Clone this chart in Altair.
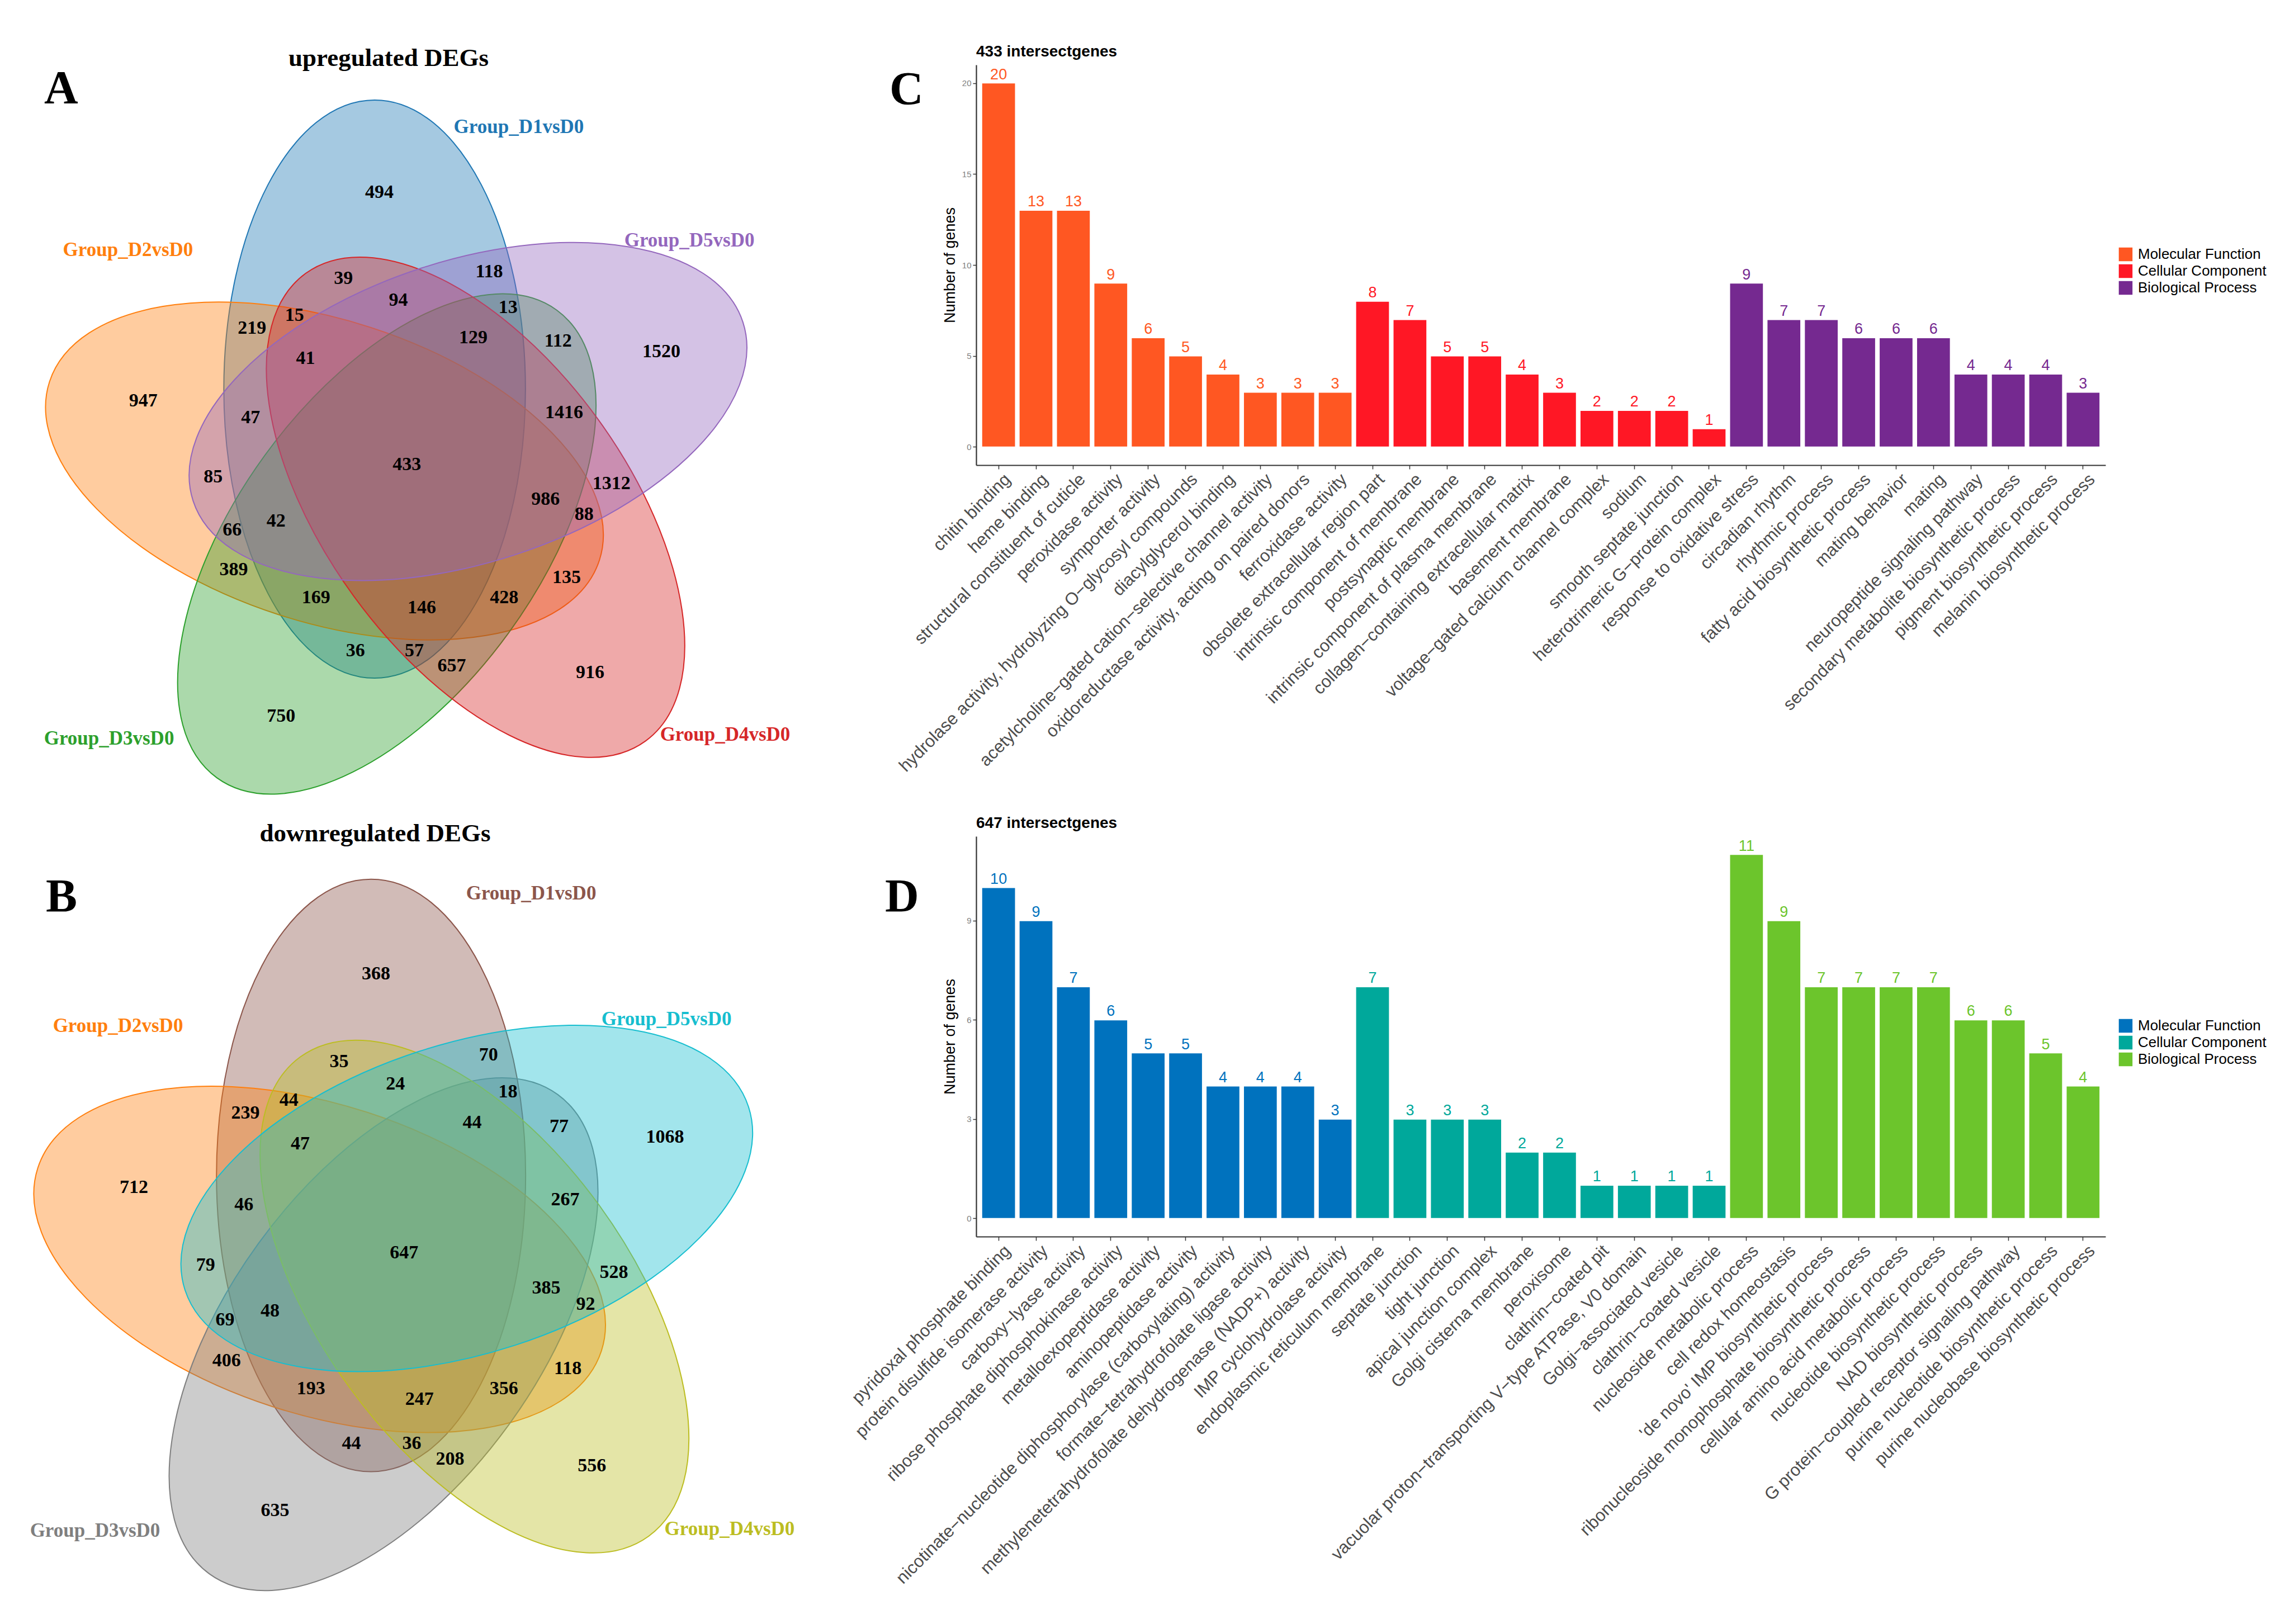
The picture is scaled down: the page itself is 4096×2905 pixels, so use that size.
import math
import altair as alt
import pandas as pd

SERIF = "Liberation Serif"
SANS = "Liberation Sans"

# ---------------------------------------------------------------- Venn data
SET_NAMES = ["Group_D1vsD0", "Group_D2vsD0", "Group_D3vsD0", "Group_D4vsD0", "Group_D5vsD0"]
UP_COLORS = ["#1F77B4", "#FF7F0E", "#2CA02C", "#D62728", "#9467BD"]
DOWN_COLORS = ["#8C564B", "#FF7F0E", "#7F7F7F", "#BCBD22", "#17BECF"]

# VennDiagram 5-set ellipse layout (npc units)
ELL_A, ELL_B, ELL_DIST, INIT_ANGLE = 0.24, 0.46, 0.13, -22.5
SET_SLOT = [0, 4, 3, 2, 1]  # slot (clockwise from top) of each set

# region label positions (npc, relative to diagram centre, y downwards)
REGION_X = [-0.0422, -0.4179, 0.4066, -0.1987, 0.2931, 0.0015, -0.0994, 0.1326, -0.0120,
            -0.1772, -0.2448, 0.1627, 0.1071, 0.2422, -0.1598, -0.2472, 0.2517, -0.3067,
            0.2223, 0.3272, 0.2835, -0.2066, -0.2765, -0.2741, 0.2557, -0.1431, 0.1564,
            0.0254, -0.0803, 0.0134, 0.0730]
REGION_Y = [-0.4332, -0.1015, -0.1797, 0.4005, 0.3306, -0.0003, -0.2965, -0.3072, -0.2620,
            -0.2373, -0.2167, -0.2496, -0.2019, -0.1962, -0.1690, -0.0743, -0.0826, 0.0195,
            0.0549, 0.0302, 0.0795, 0.0903, 0.1043, 0.1676, 0.1800, 0.2113, 0.2113,
            0.2278, 0.2960, 0.2960, 0.3207]
UP_COUNTS = [494, 947, 1520, 750, 916, 433, 39, 118, 94, 15, 219, 13, 129, 112, 41, 47, 1416,
             85, 986, 1312, 88, 42, 66, 389, 135, 169, 428, 146, 36, 57, 657]
DOWN_COUNTS = [368, 712, 1068, 635, 556, 647, 35, 70, 24, 44, 239, 18, 44, 77, 47, 46, 267,
               79, 385, 528, 92, 48, 69, 406, 118, 193, 356, 247, 44, 36, 208]

UP_NAME_X = [0.1797, -0.4422, -0.4724, 0.5080, 0.4511]
UP_NAME_Y = [-0.5374, -0.3416, 0.4359, 0.4297, -0.3568]
DOWN_NAME_X = [0.1988, -0.4427, -0.4783, 0.5069, 0.4089]
DOWN_NAME_Y = [-0.5582, -0.3524, 0.4314, 0.4288, -0.3628]

# ---------------------------------------------------------------- GO bar data
CATS = ["Molecular Function", "Cellular Component", "Biological Process"]

C_TERMS = ["chitin binding", "heme binding", "structural constituent of cuticle",
           "peroxidase activity", "symporter activity",
           "hydrolase activity, hydrolyzing O\u2212glycosyl compounds", "diacylglycerol binding",
           "acetylcholine\u2212gated cation\u2212selective channel activity",
           "oxidoreductase activity, acting on paired donors", "ferroxidase activity",
           "obsolete extracellular region part", "intrinsic component of membrane",
           "postsynaptic membrane", "intrinsic component of plasma membrane",
           "collagen\u2212containing extracellular matrix", "basement membrane",
           "voltage\u2212gated calcium channel complex", "sodium", "smooth septate junction",
           "heterotrimeric G\u2212protein complex",
           "response to oxidative stress", "circadian rhythm", "rhythmic process",
           "fatty acid biosynthetic process", "mating behavior", "mating",
           "neuropeptide signaling pathway", "secondary metabolite biosynthetic process",
           "pigment biosynthetic process", "melanin biosynthetic process"]
C_VALUES = [20, 13, 13, 9, 6, 5, 4, 3, 3, 3,
            8, 7, 5, 5, 4, 3, 2, 2, 2, 1,
            9, 7, 7, 6, 6, 6, 4, 4, 4, 3]
C_GROUP_SIZES = [10, 10, 10]
C_COLORS = ["#FF5722", "#FF1725", "#752990"]

D_TERMS = ["pyridoxal phosphate binding", "protein disulfide isomerase activity",
           "carboxy\u2212lyase activity", "ribose phosphate diphosphokinase activity",
           "metalloexopeptidase activity", "aminopeptidase activity",
           "nicotinate\u2212nucleotide diphosphorylase (carboxylating) activity",
           "formate\u2212tetrahydrofolate ligase activity",
           "methylenetetrahydrofolate dehydrogenase (NADP+) activity",
           "IMP cyclohydrolase activity",
           "endoplasmic reticulum membrane", "septate junction", "tight junction",
           "apical junction complex", "Golgi cisterna membrane", "peroxisome",
           "clathrin\u2212coated pit", "vacuolar proton\u2212transporting V\u2212type ATPase, V0 domain",
           "Golgi\u2212associated vesicle", "clathrin\u2212coated vesicle",
           "nucleoside metabolic process", "cell redox homeostasis",
           "'de novo' IMP biosynthetic process",
           "ribonucleoside monophosphate biosynthetic process",
           "cellular amino acid metabolic process", "nucleotide biosynthetic process",
           "NAD biosynthetic process", "G protein\u2212coupled receptor signaling pathway",
           "purine nucleotide biosynthetic process", "purine nucleobase biosynthetic process"]
D_VALUES = [10, 9, 7, 6, 5, 5, 4, 4, 4, 3,
            7, 3, 3, 3, 2, 2, 1, 1, 1, 1,
            11, 9, 7, 7, 7, 7, 6, 6, 5, 4]
D_GROUP_SIZES = [10, 10, 10]
D_COLORS = ["#0072BE", "#00A89B", "#6CC52C"]

# ---------------------------------------------------------------- layout (px)
VENN_W = 1450
A_H, B_H = 1380, 1401
BAR_W, BAR_H = 2020, 716
COL_GAP = 288


def note(text, x, y, size, font, weight="bold", align="left", color="black"):
    return alt.Chart(pd.DataFrame({"t": [text]})).mark_text(
        align=align, baseline="alphabetic", font=font, fontSize=size,
        fontWeight=weight, color=color
    ).encode(x=alt.value(x), y=alt.value(y), text="t:N")


def venn_panel(counts, colors, name_x, name_y, unit, cx, cy, height,
               letter, letter_xy, title, title_xy, top_pad=None):
    xs = alt.Scale(domain=[-cx / unit, (VENN_W - cx) / unit], nice=False, zero=False)
    ys = alt.Scale(domain=[-cy / unit, (height - cy) / unit], nice=False, zero=False, reverse=True)
    set_scale = alt.Scale(domain=SET_NAMES, range=colors)

    rows = []
    for i, name in enumerate(SET_NAMES):
        k = SET_SLOT[i]
        phi = math.radians(INIT_ANGLE + 72 * k)
        rows.append({"set": name, "cx": ELL_DIST * math.sin(phi),
                     "cy": -ELL_DIST * math.cos(phi), "rot": 72 * k})
    ell = pd.DataFrame(rows)
    ratio = ELL_A / ELL_B
    path = f"M0,-1A{ratio:.4f},1,0,1,1,0,1A{ratio:.4f},1,0,1,1,0,-1Z"
    size = (2 * ELL_B * unit) ** 2

    ellipses = alt.Chart(ell).mark_point(
        shape=path, size=size, filled=True, opacity=1, fillOpacity=0.4,
        strokeOpacity=1, strokeWidth=2
    ).encode(
        x=alt.X("cx:Q", scale=xs, axis=None),
        y=alt.Y("cy:Q", scale=ys, axis=None),
        fill=alt.Fill("set:N", scale=set_scale, legend=None),
        stroke=alt.Stroke("set:N", scale=set_scale, legend=None),
        angle=alt.Angle("rot:Q", scale=None),
    )

    regions = pd.DataFrame({"x": REGION_X, "y": REGION_Y, "count": counts})
    nums = alt.Chart(regions).mark_text(
        font=SERIF, fontWeight="bold", fontSize=34, color="black"
    ).encode(
        x=alt.X("x:Q", scale=xs, axis=None),
        y=alt.Y("y:Q", scale=ys, axis=None),
        text="count:Q",
    )

    names = pd.DataFrame({"x": name_x, "y": name_y, "set": SET_NAMES})
    set_labels = alt.Chart(names).mark_text(
        font=SERIF, fontWeight="bold", fontSize=35
    ).encode(
        x=alt.X("x:Q", scale=xs, axis=None),
        y=alt.Y("y:Q", scale=ys, axis=None),
        text="set:N",
        color=alt.Color("set:N", scale=set_scale, legend=None),
    )

    layers = [ellipses, nums, set_labels,
              note(letter, letter_xy[0], letter_xy[1], 84, SERIF),
              note(title, title_xy[0], title_xy[1], 45, SERIF, align="center")]
    if top_pad is not None:
        layers.append(alt.Chart(pd.DataFrame({"a": [0]})).mark_rect(color="white").encode(
            x=alt.value(0), x2=alt.value(3), y=alt.value(-top_pad), y2=alt.value(-top_pad + 2)))
    return alt.layer(*layers).properties(width=VENN_W, height=height)


def bar_panel(terms, values, group_sizes, colors, ymax, yticks, title, letter, letter_xy):
    cats = []
    for c, n in zip(CATS, group_sizes):
        cats += [c] * n
    df = pd.DataFrame({"term": terms, "genes": values, "category": cats})
    cscale = alt.Scale(domain=CATS, range=colors)
    pad = ymax * 0.05
    x = alt.X("term:N", sort=terms, title=None,
              scale=alt.Scale(paddingInner=0.1, paddingOuter=0.15),
              axis=alt.Axis(labelAngle=315, labelAlign="right", labelBaseline="top",
                            labelFont=SANS, labelFontSize=31, labelColor="#4D4D4D",
                            labelLimit=2000, labelOverlap=False, labelPadding=3,
                            labelOffset=6,
                            tickSize=7, tickWidth=1.5, tickColor="#333333",
                            domainColor="#333333", domainWidth=2.2, grid=False))
    y = alt.Y("genes:Q", scale=alt.Scale(domain=[-pad, ymax + pad], nice=False, zero=False),
              axis=alt.Axis(values=yticks, title="Number of genes", titleFont=SANS,
                            titleFontSize=27, titleFontWeight="normal", titleColor="black",
                            titleX=-47, titleY=BAR_H / 2, titleAngle=270, titleAlign="center",
                            titleBaseline="middle",
                            labelFont=SANS, labelFontSize=15, labelColor="#808080",
                            labelPadding=3, tickSize=6, tickWidth=1.5, tickColor="#333333",
                            domainColor="#333333", domainWidth=2.2, grid=False))
    bars = alt.Chart(df).mark_bar(stroke="white", strokeWidth=1.5).encode(
        x=x, y=y, y2=alt.datum(0),
        color=alt.Color("category:N", scale=cscale,
                        legend=alt.Legend(title=None, orient="none", legendX=2043, legendY=326,
                                          symbolType="square", symbolSize=600,
                                          symbolStrokeWidth=0, labelFont=SANS,
                                          labelFontSize=26, labelColor="black",
                                          labelLimit=600, rowPadding=4, labelOffset=9,
                                          padding=0)),
    )
    values_txt = alt.Chart(df).mark_text(baseline="alphabetic", dy=-7, font=SANS,
                                         fontSize=27).encode(
        x=x, y=y, text="genes:Q",
        color=alt.Color("category:N", scale=cscale, legend=None),
    )
    return alt.layer(
        bars, values_txt,
        note(letter, letter_xy[0], letter_xy[1], 84, SERIF),
        note(title, 0, -15, 28, SANS),
    ).properties(width=BAR_W, height=BAR_H)


venn_up = venn_panel(UP_COUNTS, UP_COLORS, UP_NAME_X, UP_NAME_Y, 1124, 718, 715, A_H,
                     "A", (71, 69), "upregulated DEGs", (687, 2), top_pad=108)
venn_down = venn_panel(DOWN_COUNTS, DOWN_COLORS, DOWN_NAME_X, DOWN_NAME_Y, 1152, 713, 745, B_H,
                       "B", (74, 135), "downregulated DEGs", (663, 9))
bar_up = bar_panel(C_TERMS, C_VALUES, C_GROUP_SIZES, C_COLORS, 20, [0, 5, 10, 15, 20],
                   "433 intersectgenes", "C", (-155, 71))
bar_down = bar_panel(D_TERMS, D_VALUES, D_GROUP_SIZES, D_COLORS, 11, [0, 3, 6, 9],
                     "647 intersectgenes", "D", (-163, 135))

chart = alt.concat(
    venn_up, bar_up, venn_down, bar_down,
    columns=2, spacing={"row": 0, "column": COL_GAP}, bounds="flush",
).resolve_scale(
    color="independent", fill="independent", stroke="independent"
).properties(
    padding=0
).configure_view(strokeWidth=0)

chart.save("out.html", embed_options={"renderer": "svg", "actions": False})
